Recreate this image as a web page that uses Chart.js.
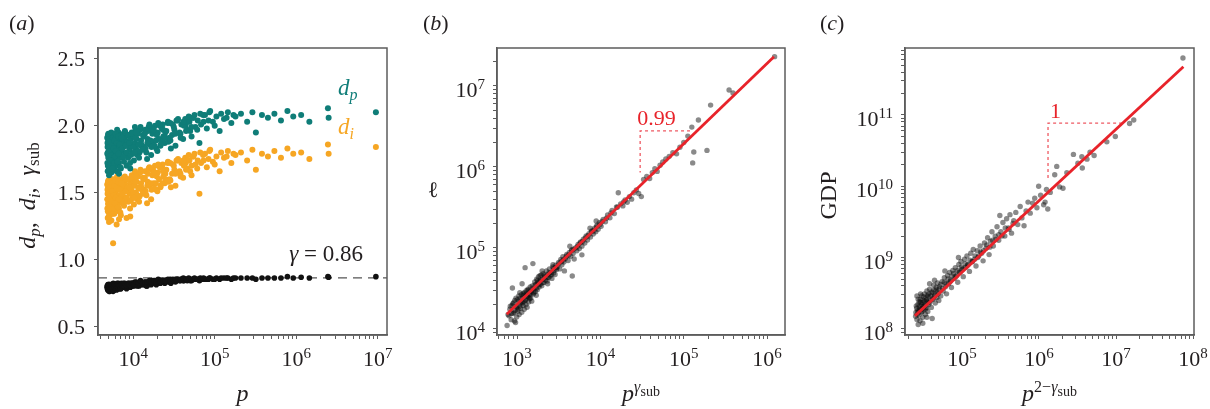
<!DOCTYPE html>
<html>
<head>
<meta charset="utf-8">
<script src="https://cdn.jsdelivr.net/npm/chart.js"></script>
<style>
  body { margin: 0; background: #fff; overflow: hidden; }
  #wrap { position: relative; width: 1210px; height: 409px; background: #fff; }
  canvas { position: absolute; top: 0; }
</style>
</head>
<body>
<div id="wrap">
  <canvas id="panelA" width="400" height="409" style="left:0"></canvas>
  <canvas id="panelB" width="405" height="409" style="left:400px"></canvas>
  <canvas id="panelC" width="405" height="409" style="left:805px"></canvas>
</div>
<script>
// ---- panel (a): fractal dimensions vs population ----
const aPop = [
  4800, 4820, 4850, 4870, 4900, 4930, 4960, 5000, 5030, 5060, 5100, 5130, 5170, 5200, 5240, 5280, 5320, 5360, 5400, 5450,
  5500, 5540, 5580, 5620, 5660, 5700, 5740, 5780, 5820, 5860, 5900, 5940, 5980, 5050, 5150, 5350, 5480, 5720, 4880, 5260,
  6020, 6080, 6150, 6200, 6260, 6330, 6400, 6460, 6530, 6600, 6680, 6750, 6820, 6900, 6980, 7060, 7150, 7240, 7330, 7420,
  7520, 7620, 7720, 7830, 7940, 8050, 8170, 8290, 8400, 6350, 6700, 7100, 7500, 5670, 8000,
  8550, 8700, 8850, 9000, 9150, 9300, 9450, 9600, 9800, 10000, 10200, 10400, 10600, 10800, 11000, 11200, 11450, 11700,
  11950, 12200, 12500, 12800, 9200, 10500, 11800,
  13200, 13600, 14000, 14500, 15000, 15500, 16000, 16600, 17200, 17800, 18500, 19200, 20000, 20800, 21600, 22500, 23400,
  24400, 14800, 17500, 19800, 23000,
  25500, 27000, 28500, 30000, 31500, 33000, 35000, 37000, 39000, 41000, 43500, 46000, 49000, 52000, 55000, 58000, 29000, 44000,
  62000, 65000, 72000, 80000, 88000, 95000, 105000, 115000, 130000, 145000, 160000, 180000,
  210000, 250000, 290000, 320000, 380000, 450000, 540000, 650000, 780000, 920000,
  1150000, 1450000, 2450000, 2500000, 9500000,
  4810, 4840, 4890, 4910, 4950, 4980, 5020, 5080, 5110, 5180, 5220, 5300, 5380, 5420, 5520, 5600, 5640, 5760, 5800, 5880,
  5960, 6050, 6120, 6280, 6450, 6560, 6640, 6850, 6950, 7200, 7400, 7650, 7900, 8100, 8350, 8650, 8950, 9350, 9700, 10100,
  10700, 11300, 12000, 12600, 13400, 14200, 15200, 16300, 17000, 18200, 19500, 21200, 22800, 24800, 26500, 28000, 32000,
  34000, 38000, 42000, 47000, 50000, 54000, 68000, 76000, 84000, 100000, 120000, 140000, 170000,
  10300, 10900, 11600, 12300, 13100, 13900, 14900, 15800, 16800, 17900, 19000, 20300, 21700, 23200, 24900, 26700, 28600,
  30700, 33000, 35500, 38200, 41200, 44500, 48000, 52000, 56500, 61000, 66500, 73000, 86000,
];
const aDp = [
  1.91, 1.72, 1.84, 1.66, 1.88, 1.78, 1.94, 1.70, 1.86, 1.81, 1.75, 1.92, 1.68, 1.83, 1.89, 1.73, 1.79, 1.93, 1.65, 1.87,
  1.76, 1.90, 1.82, 1.71, 1.85, 1.94, 1.74, 1.80, 1.88, 1.69, 1.84, 1.77, 1.91, 1.63, 1.86, 1.82, 1.78, 1.92, 1.80, 1.75,
  1.85, 1.93, 1.70, 1.88, 1.66, 1.80, 1.92, 1.75, 1.86, 1.95, 1.72, 1.83, 1.90, 1.78, 1.87, 1.68, 1.93, 1.81, 1.76, 1.89,
  1.84, 1.94, 1.73, 1.86, 1.91, 1.79, 1.88, 1.70, 1.85, 1.97, 1.64, 1.82, 1.90, 1.72, 1.95,
  1.88, 1.76, 1.93, 1.82, 1.72, 1.90, 1.85, 1.95, 1.79, 1.92, 1.74, 1.87, 1.96, 1.83, 1.90, 1.78, 1.94, 1.86,
  1.80, 1.97, 1.89, 1.84, 1.68, 1.99, 1.76,
  1.93, 1.84, 1.97, 1.80, 1.90, 1.99, 1.86, 1.78, 1.94, 1.88, 2.00, 1.83, 1.95, 1.90, 1.85, 1.98, 1.92,
  1.87, 1.75, 1.96, 1.81, 2.01,
  1.96, 1.88, 2.02, 1.93, 1.99, 1.85, 2.04, 1.95, 2.01, 1.90, 2.05, 1.97, 2.03, 1.92, 2.06, 1.99, 1.83, 2.00,
  2.04, 1.87, 2.08, 1.98, 2.11, 2.03, 2.07, 1.96, 2.05, 2.10, 2.02, 2.07,
  2.09, 2.03, 2.10, 1.95, 2.08, 2.06, 2.09, 2.04, 2.11, 2.07,
  2.08, 2.03, 2.13, 2.06, 2.10,
  1.79, 1.87, 1.70, 1.93, 1.76, 1.84, 1.67, 1.90, 1.81, 1.74, 1.88, 1.71, 1.95, 1.78, 1.85, 1.68, 1.91, 1.83, 1.72, 1.89,
  1.77, 1.94, 1.81, 1.87, 1.73, 1.92, 1.79, 1.86, 1.69, 1.91, 1.83, 1.77, 1.96, 1.85, 1.80, 1.93, 1.87, 1.78, 1.94, 1.84,
  1.91, 1.81, 1.97, 1.86, 1.92, 1.83, 1.96, 1.89, 1.98, 1.85, 1.93, 2.00, 1.88, 1.95, 2.02, 1.91, 1.97,
  2.04, 1.94, 2.00, 2.03, 1.96, 2.06, 2.01, 2.08, 2.04, 2.00, 2.09, 2.06, 2.08,
  1.80, 1.95, 1.86, 1.99, 1.82, 1.94, 1.87, 2.01, 1.84, 1.97, 1.89, 2.02, 1.86, 1.97, 1.91, 2.03, 1.89,
  2.01, 1.94, 2.05, 1.91, 2.03, 1.96, 2.07, 1.99, 2.08, 1.97, 2.09, 2.03, 2.10,
];
const aDi = [
  1.56, 1.38, 1.49, 1.31, 1.53, 1.42, 1.59, 1.35, 1.51, 1.46, 1.40, 1.57, 1.33, 1.48, 1.54, 1.37, 1.44, 1.58, 1.29, 1.52,
  1.41, 1.55, 1.47, 1.36, 1.50, 1.60, 1.39, 1.45, 1.53, 1.34, 1.49, 1.43, 1.56, 1.28, 1.51, 1.46, 1.43, 1.57, 1.45, 1.40,
  1.50, 1.58, 1.36, 1.53, 1.26, 1.45, 1.57, 1.41, 1.52, 1.60, 1.38, 1.48, 1.56, 1.44, 1.53, 1.33, 1.59, 1.47, 1.42, 1.55,
  1.50, 1.61, 1.40, 1.52, 1.57, 1.46, 1.54, 1.31, 1.51, 1.62, 1.30, 1.48, 1.56, 1.12, 1.60,
  1.54, 1.43, 1.60, 1.49, 1.38, 1.57, 1.52, 1.63, 1.46, 1.59, 1.41, 1.55, 1.64, 1.50, 1.58, 1.45, 1.62, 1.54,
  1.47, 1.65, 1.57, 1.52, 1.32, 1.66, 1.43,
  1.61, 1.52, 1.66, 1.48, 1.58, 1.68, 1.55, 1.45, 1.63, 1.57, 1.70, 1.52, 1.65, 1.60, 1.54, 1.69, 1.62,
  1.57, 1.42, 1.67, 1.51, 1.71,
  1.67, 1.58, 1.72, 1.64, 1.70, 1.55, 1.74, 1.66, 1.72, 1.61, 1.76, 1.68, 1.74, 1.63, 1.77, 1.71, 1.54, 1.72,
  1.74, 1.49, 1.78, 1.69, 1.82, 1.73, 1.77, 1.66, 1.76, 1.81, 1.72, 1.78,
  1.80, 1.74, 1.82, 1.67, 1.79, 1.77, 1.81, 1.76, 1.83, 1.79,
  1.80, 1.75, 1.86, 1.79, 1.84,
  1.45, 1.52, 1.36, 1.58, 1.41, 1.49, 1.32, 1.55, 1.47, 1.39, 1.54, 1.37, 1.60, 1.43, 1.51, 1.34, 1.57, 1.48, 1.38, 1.55,
  1.42, 1.59, 1.46, 1.53, 1.39, 1.58, 1.45, 1.52, 1.35, 1.57, 1.49, 1.43, 1.62, 1.51, 1.46, 1.60, 1.54, 1.44, 1.61, 1.50,
  1.58, 1.48, 1.65, 1.54, 1.60, 1.51, 1.64, 1.57, 1.67, 1.53, 1.62, 1.69, 1.57, 1.64, 1.72, 1.60, 1.67,
  1.74, 1.64, 1.70, 1.74, 1.66, 1.77, 1.72, 1.79, 1.75, 1.71, 1.80, 1.77, 1.79,
  1.46, 1.62, 1.53, 1.67, 1.49, 1.61, 1.55, 1.69, 1.52, 1.65, 1.57, 1.71, 1.55, 1.66, 1.60, 1.73, 1.59,
  1.71, 1.64, 1.75, 1.62, 1.74, 1.67, 1.78, 1.70, 1.79, 1.68, 1.80, 1.74, 1.81,
];
const aGamma = [
  0.80, 0.78, 0.79, 0.77, 0.80, 0.78, 0.81, 0.77, 0.80, 0.79, 0.78, 0.81, 0.76, 0.79, 0.80, 0.78, 0.79, 0.81, 0.77, 0.80,
  0.78, 0.80, 0.79, 0.78, 0.80, 0.82, 0.78, 0.79, 0.80, 0.77, 0.79, 0.78, 0.80, 0.76, 0.80, 0.79, 0.79, 0.81, 0.79, 0.78,
  0.80, 0.81, 0.79, 0.81, 0.77, 0.80, 0.81, 0.79, 0.80, 0.82, 0.79, 0.80, 0.81, 0.80, 0.81, 0.78, 0.82, 0.80, 0.79, 0.81,
  0.80, 0.82, 0.79, 0.81, 0.81, 0.80, 0.81, 0.78, 0.80, 0.82, 0.78, 0.80, 0.81, 0.76, 0.81,
  0.81, 0.80, 0.82, 0.81, 0.79, 0.82, 0.81, 0.82, 0.80, 0.82, 0.80, 0.81, 0.82, 0.81, 0.82, 0.80, 0.82, 0.81,
  0.81, 0.83, 0.82, 0.81, 0.79, 0.83, 0.80,
  0.82, 0.81, 0.83, 0.80, 0.82, 0.83, 0.82, 0.81, 0.83, 0.82, 0.84, 0.81, 0.83, 0.83, 0.82, 0.84, 0.83,
  0.82, 0.80, 0.83, 0.82, 0.84,
  0.84, 0.83, 0.85, 0.84, 0.84, 0.83, 0.85, 0.84, 0.85, 0.84, 0.85, 0.84, 0.85, 0.84, 0.85, 0.85, 0.82, 0.85,
  0.85, 0.84, 0.85, 0.85, 0.86, 0.85, 0.86, 0.85, 0.86, 0.86, 0.85, 0.86,
  0.86, 0.86, 0.86, 0.85, 0.86, 0.86, 0.86, 0.86, 0.87, 0.86,
  0.865, 0.86, 0.87, 0.865, 0.87,
  0.79, 0.80, 0.78, 0.81, 0.78, 0.80, 0.77, 0.81, 0.80, 0.79, 0.80, 0.78, 0.81, 0.79, 0.80, 0.78, 0.81, 0.80, 0.79, 0.80,
  0.79, 0.81, 0.80, 0.80, 0.79, 0.81, 0.80, 0.80, 0.78, 0.81, 0.80, 0.80, 0.82, 0.81, 0.80, 0.82, 0.81, 0.80, 0.82, 0.81,
  0.82, 0.81, 0.83, 0.82, 0.82, 0.82, 0.83, 0.82, 0.84, 0.82, 0.83, 0.84, 0.83, 0.83, 0.84, 0.83, 0.84,
  0.85, 0.84, 0.84, 0.85, 0.84, 0.85, 0.85, 0.85, 0.85, 0.85, 0.86, 0.86, 0.86,
  0.81, 0.83, 0.82, 0.84, 0.82, 0.83, 0.83, 0.84, 0.83, 0.84, 0.83, 0.85, 0.83, 0.84, 0.84, 0.85, 0.84,
  0.85, 0.85, 0.85, 0.85, 0.86, 0.85, 0.86, 0.85, 0.86, 0.85, 0.86, 0.86, 0.86,
];
const gammaMean = 0.86;
const aXRange = [3700, 13000000];
const aYRange = [0.433, 2.582];
const aYTicks = [0.5, 1.0, 1.5, 2.0, 2.5];
const aYTickLabels = ['0.5', '1.0', '1.5', '2.0', '2.5'];
const aXDecades = [4, 5, 6, 7];

// ---- panel (b): road length vs p^gamma ----
const bX = [
  760, 800, 820, 850, 870, 900, 910, 930, 950, 970, 990, 1000, 1020, 1040, 1060, 1080, 1100, 1120, 1140, 1160,
  1180, 1200, 1220, 1250, 1260, 1280, 1300, 1320, 1340, 1360, 1380, 1400, 1420, 1440, 1460, 1480, 1500, 880, 960, 1150,
  1520, 1550, 1570, 1600, 1630, 1660, 1690, 1720, 1750, 1780, 1810, 1840, 1870, 1900, 1940, 1980, 2020, 2060, 2100, 2150,
  2200, 2250, 2300, 2350, 2400, 2450, 2500, 2560, 2620, 2680, 2740, 2800, 2860, 2920, 2980, 1700, 2000, 2330, 2700, 1880,
  3050, 3150, 3250, 3350, 3450, 3550, 3650, 3800, 3950, 4100, 4250, 4400, 4550, 4700, 4850, 5000, 5200, 5400, 5600, 5800,
  6000, 6250, 6500, 6750, 7000, 7300, 7600, 7900, 8200, 8500, 8800, 9100, 9400, 9700, 4300, 6000, 3700, 7500, 8900, 4600,
  10200, 10800, 11500, 12200, 13000, 13800, 14700, 15600, 16400, 17500, 18600, 19800, 21000, 22300, 23700, 25200, 27000, 28800,
  31000, 33000, 36000, 39000, 42000, 45000, 48000, 52000, 56000, 61000, 67000, 74000, 82000, 90000, 100000, 112000,
  125000, 128000, 132000, 150000, 190000, 210000, 350000, 390000, 1230000,
  780, 830, 860, 890, 920, 940, 980, 1010, 1030, 1050, 1070, 1090, 1110, 1130, 1170, 1190, 1210, 1230, 1270, 1290,
  1310, 1350, 1390, 1430, 1470, 1540, 1590, 1650, 1710, 1760, 1830, 1920, 2040, 2130, 2280, 2420, 2580, 2760, 2950, 3200,
  3400, 3600, 3900, 4150, 4500, 4800, 5300, 5700, 6100, 6600, 7100, 7800, 8400, 9000, 9900, 10500, 11800, 13400, 16000, 19000,
];
const bY = [
  11000, 14500, 17500, 13000, 19500, 15500, 21000, 12500, 17000, 24000, 14000, 19000, 16500, 22000, 15000, 28000, 18000, 21500, 16000, 24500,
  19500, 26000, 17500, 57000, 22500, 20000, 27000, 18500, 25000, 30000, 21500, 26500, 23500, 33000, 24000, 28500, 22000, 32000, 12000, 36000,
  34000, 64000, 27000, 31000, 38000, 29000, 35000, 41000, 30500, 37000, 44000, 33000, 39000, 35500, 46000, 34000, 41000, 48000, 37500, 44000,
  40000, 52000, 39000, 47000, 43000, 55000, 45000, 50000, 42000, 58000, 49000, 53000, 47000, 61000, 54000, 26000, 52000, 36000, 62000, 45500,
  58000, 66000, 55000, 72000, 62000, 78000, 67000, 74000, 83000, 70000, 88000, 79000, 95000, 85000, 73000, 100000, 92000, 110000, 98000, 118000,
  105000, 128000, 115000, 140000, 125000, 150000, 136000, 162000, 148000, 175000, 158000, 190000, 170000, 205000, 105000, 82000, 52000, 175000, 215000, 45000,
  185000, 225000, 210000, 255000, 235000, 290000, 265000, 320000, 480000, 350000, 330000, 390000, 365000, 430000, 400000, 480000, 520000, 470000,
  430000, 700000, 760000, 720000, 850000, 950000, 880000, 1050000, 1150000, 1250000, 1350000, 1500000, 1450000, 1750000, 2000000, 2400000,
  3100000, 1120000, 1530000, 3800000, 1600000, 5800000, 8900000, 8200000, 23000000,
  15000, 19000, 15500, 20500, 16000, 22500, 18500, 23000, 17500, 25500, 19000, 24000, 20500, 26500, 21000, 27500, 22000, 28000, 23000, 29500,
  25500, 31000, 24500, 29000, 27000, 31500, 28000, 35000, 32000, 39500, 35000, 40000, 37000, 46000, 43000, 49000, 47000, 56000, 57000, 64000,
  68000, 71000, 79000, 81000, 92000, 96000, 104000, 115000, 120000, 133000, 141000, 158000, 165000, 182000, 195000, 212000, 232000, 270000, 318000, 370000,
];
const bFitX = [752, 1210000];
const bFitY = [15200, 23000000];
const bTriX = [119000, 30000, 30000];
const bTriY = [2780000, 2780000, 850000];
const bSlope = '0.99';
const bXRange = [575, 1640000];
const bYRange = [8400, 29400000];
const bXDecades = [3, 4, 5, 6];
const bYDecades = [4, 5, 6, 7];

// ---- panel (c): GDP vs p^(2-gamma) ----
const cX = [
  25000, 25500, 26000, 26500, 27000, 27500, 28000, 28500, 29000, 29500, 30000, 30500, 31000, 31500, 32000, 32500,
  33000, 33500, 34000, 34500, 35000, 35500, 36000, 36500, 37000, 38000, 39000, 40000, 41000, 42000, 43000, 44000,
  45000, 46000, 47000, 48000, 49000, 50000, 27000, 31000, 35000, 29000, 38000, 44000, 26000, 41000,
  51000, 53000, 55000, 57000, 59000, 61000, 63000, 65000, 67000, 69000, 71000, 73000, 76000, 79000, 82000, 85000,
  88000, 91000, 94000, 97000, 100000, 104000, 108000, 112000, 116000, 120000, 125000, 130000, 135000, 140000, 146000,
  152000, 158000, 165000, 172000, 180000, 188000, 196000, 60000, 90000,
  205000, 215000, 225000, 235000, 245000, 255000, 270000, 285000, 300000, 310000, 320000, 340000, 360000, 380000, 400000,
  420000, 440000, 470000, 500000, 530000, 570000, 600000, 640000, 680000, 720000, 770000, 830000, 880000, 940000, 990000,
  1050000, 1150000, 1200000, 1250000, 1300000, 1400000, 1600000, 1700000, 1850000, 2050000, 2300000, 2800000, 3200000,
  3600000, 3650000, 4200000, 4600000, 5200000, 7600000, 9800000, 15000000, 17000000, 74000000,
  25200, 25800, 26300, 26800, 27300, 27800, 28300, 28800, 29300, 29800, 30300, 30800, 31300, 31800, 32300, 33000,
  33800, 34600, 35400, 36300, 37200, 38200, 39300, 40500, 41800, 43200, 44700, 46300, 48000, 50500, 53000, 56000,
  59000, 62000, 66000, 70000, 74000, 78000, 83000, 87000, 92000, 98000, 103000, 110000, 118000, 127000, 137000,
  148000, 160000, 175000, 190000, 210000, 230000, 250000, 275000, 300000, 330000, 365000, 410000, 460000,
];
const cY = [
  1.5e8, 2.1e8, 1.35e8, 1.8e8, 2.6e8, 1.55e8, 2.05e8, 1.3e8, 2.35e8, 1.7e8, 2.9e8, 1.95e8, 1.45e8, 2.5e8, 1.85e8, 3.1e8,
  2.15e8, 1.6e8, 2.7e8, 2.0e8, 3.4e8, 2.3e8, 1.75e8, 2.85e8, 2.2e8, 3.6e8, 2.5e8, 2.0e8, 3.2e8, 2.6e8, 4.1e8, 2.9e8,
  2.3e8, 3.5e8, 2.75e8, 4.4e8, 3.1e8, 2.5e8, 1.15e8, 1.2e8, 1.45e8, 3.1e8, 4.3e8, 4.8e8, 2.9e8, 1.4e8,
  3.9e8, 2.9e8, 4.6e8, 3.4e8, 5.2e8, 3.9e8, 3.1e8, 5.6e8, 4.3e8, 6.2e8, 4.8e8, 3.8e8, 6.6e8, 5.1e8, 7.2e8, 5.6e8,
  4.5e8, 8.0e8, 6.2e8, 8.8e8, 6.8e8, 5.4e8, 9.5e8, 7.3e8, 1.05e9, 8.0e8, 6.4e8, 1.15e9, 8.8e8, 1.3e9, 9.5e8,
  7.6e8, 1.25e9, 1.05e9, 1.45e9, 1.15e9, 9.0e8, 1.6e9, 6.5e8, 1.0e9,
  1.35e9, 1.9e9, 1.1e9, 1.7e9, 2.3e9, 1.45e9, 2.0e9, 2.7e9, 1.75e9, 3.9e9, 2.3e9, 3.1e9, 2.0e9, 3.5e9, 2.6e9,
  4.0e9, 2.2e9, 3.3e9, 4.3e9, 2.9e9, 5.2e9, 3.6e9, 2.8e9, 4.5e9, 6.0e9, 4.2e9, 5.8e9, 6.8e9, 5.0e9, 1.0e10,
  7.5e9, 5.5e9, 6.0e9, 9.0e9, 4.8e9, 8.2e9, 1.45e10, 1.9e10, 9.8e9, 9.4e9, 1.55e10, 2.8e10, 2.1e10,
  2.6e10, 1.8e10, 2.4e10, 3.0e10, 2.7e10, 4.2e10, 5.0e10, 7.6e10, 8.5e10, 6.3e11,
  1.7e8, 1.95e8, 1.6e8, 2.2e8, 1.75e8, 2.4e8, 1.85e8, 2.6e8, 1.9e8, 2.2e8, 1.75e8, 2.35e8, 2.05e8, 2.8e8, 2.1e8, 2.45e8,
  1.9e8, 2.55e8, 2.95e8, 2.4e8, 3.1e8, 2.35e8, 2.9e8, 3.3e8, 2.7e8, 3.5e8, 3.0e8, 3.8e8, 3.3e8, 3.6e8, 4.2e8, 3.7e8,
  4.5e8, 4.3e8, 5.0e8, 4.6e8, 5.5e8, 6.0e8, 5.4e8, 6.6e8, 6.3e8, 7.4e8, 7.0e8, 8.2e8, 7.8e8, 9.2e8, 8.8e8,
  1.05e9, 1.0e9, 1.2e9, 1.25e9, 1.5e9, 1.4e9, 1.75e9, 1.8e9, 2.1e9, 2.0e9, 2.6e9, 2.5e9, 3.0e9,
];
const cFitX = [24500, 75000000];
const cFitY = [1.52e8, 4.75e11];
const cTriX = [12000000, 1310000, 1310000];
const cTriY = [7.7e10, 7.7e10, 1.25e10];
const cSlope = '1';
const cXRange = [18200, 103000000];
const cYRange = [8.2e7, 8.7e11];
const cXDecades = [5, 6, 7, 8];
const cYDecades = [8, 9, 10, 11];

// ---- styling ----
const SERIF = '"Liberation Serif", "DejaVu Serif", "Times New Roman", serif';
const TEXT = '#231f20';
const FRAME = '#5c5c5c';
const TEAL = '#0f7d78';
const ORANGE = '#f6a623';
const RED = '#e8232a';
const CLOUD = 'rgba(10, 10, 10, 0.48)';

const font = (size, italic) => (italic ? 'italic ' : '') + size + 'px ' + SERIF;

function pts(xs, ys) {
    return xs.map((x, i) => ({x: x, y: ys[i]}));
}

// tick marks at 1..9 x 10^n inside the range
function logTicks(range) {
    const out = [];
    const lo = Math.floor(Math.log10(range[0]));
    const hi = Math.ceil(Math.log10(range[1]));
    for (let e = lo; e <= hi; ++e) {
        for (let m = 1; m <= 9; ++m) {
            const v = m * Math.pow(10, e);
            if (v >= range[0] && v <= range[1]) out.push({value: v, major: m === 1});
        }
    }
    return out;
}

// text made of pieces with their own font / baseline shift
function rich(ctx, segs, x, y, align) {
    let w = 0;
    for (const s of segs) {
        ctx.font = s.font;
        s.w = ctx.measureText(s.t).width;
        w += s.w;
    }
    let cx = align === 'center' ? x - w / 2 : align === 'right' ? x - w : x;
    ctx.textAlign = 'left';
    ctx.textBaseline = 'alphabetic';
    for (const s of segs) {
        ctx.font = s.font;
        ctx.fillStyle = s.color || TEXT;
        ctx.fillText(s.t, cx, y + (s.dy || 0));
        cx += s.w;
    }
}

function power(e) {
    return [{t: '10', font: font(22)}, {t: String(e), font: font(15), dy: -8}];
}

function axis(type, range, ticks, size, horizontal) {
    return {
        type: type,
        min: range[0],
        max: range[1],
        afterBuildTicks: s => { s.ticks = ticks; },
        afterFit: s => {
            if (horizontal) s.height = size;
            else s.width = size;
        },
        ticks: {display: false, callback: () => ''},
        grid: {
            drawOnChartArea: false,
            drawTicks: true,
            tickLength: 4,
            color: FRAME,
            lineWidth: 1,
        },
        border: {display: true, color: FRAME, width: 1.5},
    };
}

function decoPlugin(draw) {
    return {
        id: 'deco',
        afterDraw(chart) {
            const ctx = chart.ctx;
            const a = chart.chartArea;
            ctx.save();
            ctx.strokeStyle = FRAME;
            ctx.lineWidth = 1.5;
            ctx.strokeRect(a.left, a.top, a.right - a.left, a.bottom - a.top);
            draw(chart, ctx, a, chart.scales.x, chart.scales.y);
            ctx.restore();
        },
    };
}

function xDecades(ctx, a, sx, decs) {
    decs.forEach(e => rich(ctx, power(e), sx.getPixelForValue(Math.pow(10, e)), a.bottom + 31, 'center'));
}

function yDecades(ctx, a, sy, decs) {
    decs.forEach(e => rich(ctx, power(e), a.left - 12, sy.getPixelForValue(Math.pow(10, e)) + 11, 'right'));
}

function panelTag(ctx, letter, x) {
    rich(ctx, [{t: '(', font: font(22)}, {t: letter, font: font(22, true)}, {t: ')', font: font(22)}], x, 30, 'left');
}

function rotated(ctx, segs, x, y) {
    ctx.save();
    ctx.translate(x, y);
    ctx.rotate(-Math.PI / 2);
    rich(ctx, segs, 0, 0, 'center');
    ctx.restore();
}

function baseOptions(padRight) {
    return {
        responsive: false,
        animation: false,
        events: [],
        layout: {padding: {left: 0, top: 48, right: padRight, bottom: 0}},
        plugins: {legend: {display: false}, tooltip: {enabled: false}},
    };
}

function dots(xs, ys, color, r) {
    return {data: pts(xs, ys), backgroundColor: color, borderWidth: 0, pointRadius: r, showLine: false};
}

function line(xs, ys, color, width, dash) {
    return {
        data: pts(xs, ys), showLine: true, borderColor: color, borderWidth: width,
        borderDash: dash || [], pointRadius: 0, fill: false,
    };
}

// ---- panel (a) ----
const optA = baseOptions(13);
optA.scales = {
    x: axis('logarithmic', aXRange, logTicks(aXRange), 74, true),
    y: axis('linear', aYRange, aYTicks.map(v => ({value: v})), 98, false),
};
new Chart(document.getElementById('panelA'), {
    type: 'scatter',
    data: {datasets: [
        dots(aPop, aDp, TEAL, 3),
        dots(aPop, aDi, ORANGE, 3),
        dots(aPop, aGamma, '#111', 2.8),
        line(aXRange, [gammaMean, gammaMean], '#555', 1.2, [9, 6]),
    ]},
    options: optA,
    plugins: [decoPlugin((chart, ctx, a, sx, sy) => {
        xDecades(ctx, a, sx, aXDecades);
        aYTicks.forEach((v, i) => rich(ctx, [{t: aYTickLabels[i], font: font(22)}],
            a.left - 13, sy.getPixelForValue(v) + 7.5, 'right'));
        rich(ctx, [{t: 'p', font: font(24, true)}], (a.left + a.right) / 2, 401, 'center');
        rotated(ctx, [
            {t: 'd', font: font(24, true)}, {t: 'p', font: font(17, true), dy: 5},
            {t: ',  ', font: font(24)},
            {t: 'd', font: font(24, true)}, {t: 'i', font: font(17, true), dy: 5},
            {t: ',  ', font: font(24)},
            {t: 'γ', font: font(24, true)}, {t: 'sub', font: font(17), dy: 4},
        ], 35, (a.top + a.bottom) / 2 + 4);
        panelTag(ctx, 'a', 9);
        rich(ctx, [{t: 'd', font: font(23, true), color: TEAL}, {t: 'p', font: font(16, true), dy: 5, color: TEAL}],
            a.right - 49, 95, 'left');
        rich(ctx, [{t: 'd', font: font(23, true), color: ORANGE}, {t: 'i', font: font(16, true), dy: 5, color: ORANGE}],
            a.right - 49, 134, 'left');
        rich(ctx, [{t: 'γ', font: font(23, true)}, {t: ' = ' + gammaMean.toFixed(2), font: font(23)}],
            a.right - 24, sy.getPixelForValue(gammaMean) - 17, 'right');
    })],
});

// ---- panel (b) ----
const optB = baseOptions(20);
optB.scales = {
    x: axis('logarithmic', bXRange, logTicks(bXRange), 74, true),
    y: axis('logarithmic', bYRange, logTicks(bYRange), 97, false),
};
new Chart(document.getElementById('panelB'), {
    type: 'scatter',
    data: {datasets: [
        line(bFitX, bFitY, RED, 2.8),
        line(bTriX, bTriY, 'rgba(235, 60, 70, 0.85)', 1.3, [3, 3]),
        dots(bX, bY, CLOUD, 2.7),
    ]},
    options: optB,
    plugins: [decoPlugin((chart, ctx, a, sx, sy) => {
        xDecades(ctx, a, sx, bXDecades);
        yDecades(ctx, a, sy, bYDecades);
        rich(ctx, [{t: 'p', font: font(24, true)}, {t: 'γ', font: font(16, true), dy: -9},
            {t: 'sub', font: font(14), dy: -5}], (a.left + a.right) / 2, 401, 'center');
        rich(ctx, [{t: 'ℓ', font: font(22)}], 33, 197, 'center');
        panelTag(ctx, 'b', 23);
        rich(ctx, [{t: bSlope, font: font(22), color: RED}],
            sx.getPixelForValue(bTriX[1]) - 3, sy.getPixelForValue(bTriY[1]) - 6, 'left');
    })],
});

// ---- panel (c) ----
const optC = baseOptions(16);
optC.scales = {
    x: axis('logarithmic', cXRange, logTicks(cXRange), 74, true),
    y: axis('logarithmic', cYRange, logTicks(cYRange), 100, false),
};
new Chart(document.getElementById('panelC'), {
    type: 'scatter',
    data: {datasets: [
        line(cFitX, cFitY, RED, 2.8),
        line(cTriX, cTriY, 'rgba(235, 60, 70, 0.85)', 1.3, [3, 3]),
        dots(cX, cY, CLOUD, 2.7),
    ]},
    options: optC,
    plugins: [decoPlugin((chart, ctx, a, sx, sy) => {
        xDecades(ctx, a, sx, cXDecades);
        yDecades(ctx, a, sy, cYDecades);
        rich(ctx, [{t: 'p', font: font(24, true)}, {t: '2\u2212', font: font(16), dy: -9},
            {t: 'γ', font: font(16, true), dy: -9}, {t: 'sub', font: font(14), dy: -5}],
            (a.left + a.right) / 2, 401, 'center');
        rotated(ctx, [{t: 'GDP', font: font(24)}], 31, (a.top + a.bottom) / 2 + 4);
        panelTag(ctx, 'c', 15);
        rich(ctx, [{t: cSlope, font: font(22), color: RED}],
            sx.getPixelForValue(cTriX[1]) + 2, sy.getPixelForValue(cTriY[1]) - 5, 'left');
    })],
});
</script>
</body>
</html>
